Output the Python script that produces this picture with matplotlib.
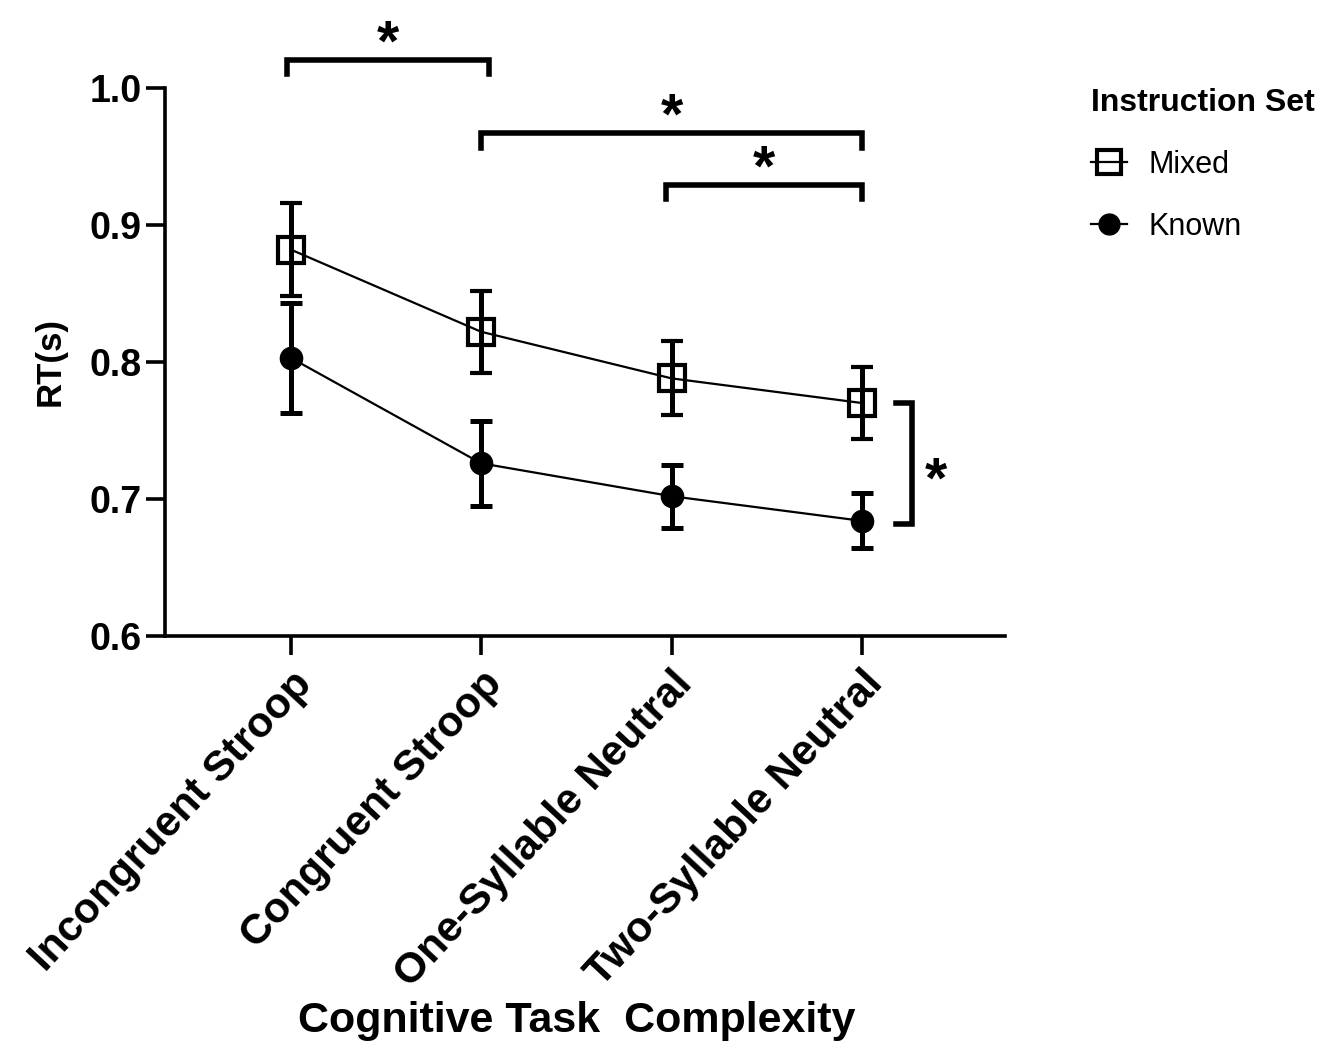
import matplotlib.pyplot as plt
from matplotlib.lines import Line2D

plt.rcParams['font.family'] = ['Liberation Sans', 'DejaVu Sans']

categories = ["Incongruent Stroop", "Congruent Stroop", "One-Syllable Neutral", "Two-Syllable Neutral"]
mixed_mean = [0.882, 0.822, 0.788, 0.770]
mixed_err = [0.034, 0.030, 0.027, 0.026]
known_mean = [0.803, 0.726, 0.702, 0.684]
known_err = [0.040, 0.031, 0.023, 0.020]

# significance brackets: (x_start, x_end, y_bar, y_foot)
brackets = [(-0.02, 1.04, 1.020, 1.010), (1.0, 3.0, 0.967, 0.956), (1.97, 3.0, 0.929, 0.919)]
# bracket between groups at the last category: (y_top, y_bottom)
side_bracket = (0.770, 0.682)

fig = plt.figure(figsize=(13.33, 10.46), dpi=100)
ax = fig.add_axes([0.1238, 0.392, 0.630, 0.524])

x = list(range(len(categories)))

ax.errorbar(x, mixed_mean, yerr=mixed_err, color='black', lw=1.6, marker='s', ms=19,
            mfc='none', mec='black', mew=3, elinewidth=3.6, capsize=8, capthick=3.6, zorder=3)
ax.errorbar(x, known_mean, yerr=known_err, color='black', lw=1.6, marker='o', ms=16,
            mfc='black', mec='black', elinewidth=3.6, capsize=8, capthick=3.6, zorder=3)

ax.set_ylim(0.6, 1.0)
ax.set_xlim(-0.66, 3.75)
ax.set_yticks([0.6, 0.7, 0.8, 0.9, 1.0])
ax.set_yticklabels(['0.6', '0.7', '0.8', '0.9', '1.0'])
ax.set_xticks(x)
ax.set_xticklabels(categories, rotation=47, ha='right', va='top', rotation_mode='anchor',
                   fontsize=30.5, fontweight='bold')
for lab in ax.get_yticklabels():
    lab.set_fontsize(27)
    lab.set_fontweight('bold')
ax.tick_params(width=2.6, length=14, pad=3)
ax.tick_params(axis='x', pad=6)
for s in ['top', 'right']:
    ax.spines[s].set_visible(False)
for s in ['left', 'bottom']:
    ax.spines[s].set_linewidth(2.6)

ax.set_ylabel('RT(s)', fontsize=25, fontweight='bold', labelpad=16)
ax.set_xlabel('Cognitive Task  Complexity', fontsize=31, fontweight='bold', va='center')
ax.xaxis.set_label_coords(0.49, -0.702)

# brackets above
for x0, x1, yb, yf in brackets:
    ax.plot([x0, x0, x1, x1], [yf, yb, yb, yf], color='black', lw=4, clip_on=False,
            solid_joinstyle='miter')
    ax.text((x0 + x1) / 2, yb + 0.0, '*', ha='center', va='baseline', fontsize=41,
            fontweight='bold', clip_on=False)

# vertical bracket at right
bx = 3.26
ax.plot([bx - 0.08, bx, bx, bx - 0.08], [side_bracket[0], side_bracket[0], side_bracket[1], side_bracket[1]],
        color='black', lw=4, clip_on=False, solid_joinstyle='miter')
ax.text(bx + 0.13, (side_bracket[0] + side_bracket[1]) / 2 - 0.025, '*', ha='center', va='baseline',
        fontsize=41, fontweight='bold', clip_on=False)

handles = [Line2D([], [], color='black', lw=1.6, marker='s', ms=17, mfc='none', mec='black', mew=3),
           Line2D([], [], color='black', lw=1.6, marker='o', ms=15, mfc='black', mec='black')]
leg = fig.legend(handles, ['Mixed', 'Known'], loc='upper left', bbox_to_anchor=(0.809, 0.928),
                 frameon=False, title='Instruction Set', fontsize=22,
                 title_fontproperties={'weight': 'bold', 'size': 23},
                 handlelength=1.2, handletextpad=0.7, labelspacing=1.05, borderaxespad=0)
leg._legend_box.align = 'left'

fig.savefig('out.png', dpi=100)
